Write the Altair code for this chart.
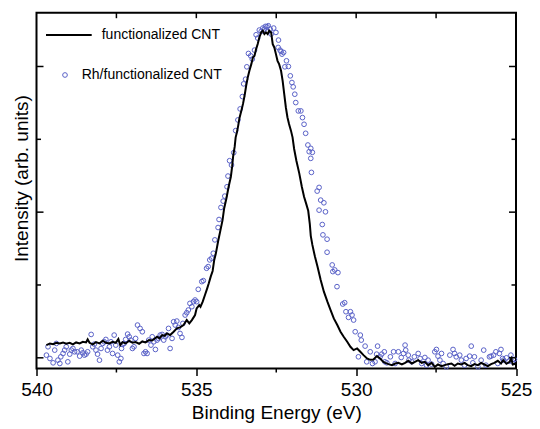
import altair as alt
import pandas as pd

series_names = ["functionalized CNT", "Rh/functionalized CNT"]

# Black line: functionalized CNT (binding energy eV, intensity arb.)
line_ev = [539.69, 539.58, 539.48, 539.38, 539.27, 539.17, 539.07, 538.96, 538.86, 538.76,
           538.65, 538.55, 538.45, 538.40, 538.34, 538.24, 538.14, 538.03, 537.93, 537.83,
           537.72, 537.62, 537.52, 537.44, 537.38, 537.31, 537.21, 537.10, 537.00, 536.90,
           536.79, 536.69, 536.59, 536.48, 536.38, 536.23, 536.15, 536.07, 535.99, 535.92,
           535.82, 535.71, 535.61, 535.51, 535.40, 535.30, 535.22, 535.14, 535.04, 534.99,
           534.91, 534.87, 534.80, 534.73, 534.66, 534.61, 534.55, 534.49, 534.44, 534.39,
           534.32, 534.25, 534.18, 534.13, 534.06, 533.99, 533.92, 533.88, 533.85, 533.80,
           533.77, 533.73, 533.69, 533.65, 533.59, 533.54, 533.49, 533.44, 533.39, 533.34,
           533.28, 533.23, 533.18, 533.13, 533.08, 533.03, 532.97, 532.92, 532.87, 532.82,
           532.77, 532.72, 532.66, 532.61, 532.56, 532.51, 532.46, 532.41, 532.35, 532.30,
           532.25, 532.20, 532.15, 532.10, 532.04, 531.99, 531.94, 531.87, 531.78, 531.70,
           531.63, 531.56, 531.50, 531.45, 531.42, 531.37, 531.29, 531.21, 531.11, 531.01,
           530.90, 530.80, 530.70, 530.59, 530.49, 530.39, 530.28, 530.18, 530.08, 529.97,
           529.87, 529.77, 529.66, 529.56, 529.46, 529.35, 529.25, 529.15, 529.09, 528.99,
           528.88, 528.78, 528.68, 528.57, 528.47, 528.37, 528.26, 528.16, 528.06, 527.95,
           527.85, 527.75, 527.64, 527.54, 527.44, 527.33, 527.23, 527.13, 527.02, 526.92,
           526.82, 526.71, 526.61, 526.51, 526.40, 526.30, 526.19, 526.09, 525.99, 525.88,
           525.78, 525.68, 525.57, 525.47, 525.40, 525.30, 525.20, 525.15, 525.10, 525.02]
line_int = [38, 43, 41, 45, 43, 46, 42, 45, 40, 46,
            43, 48, 46, 55, 45, 40, 47, 43, 51, 45,
            43, 48, 45, 56, 38, 47, 43, 51, 45, 47,
            42, 49, 46, 53, 52, 63, 58, 68, 66, 73,
            68, 78, 88, 91, 98, 113, 103, 113, 128, 148,
            158, 153, 168, 188, 208, 223, 243, 260, 293, 312,
            348, 380, 412, 447, 477, 512, 542, 572, 602, 632,
            660, 675, 695, 718, 740, 760, 785, 815, 840, 859,
            879, 899, 904, 924, 939, 959, 974, 979, 969, 974,
            969, 979, 974, 939, 929, 909, 889, 879, 859, 829,
            789, 750, 720, 700, 680, 660, 625, 590, 552, 512,
            482, 460, 440, 400, 365, 338, 303, 273, 233, 198,
            168, 143, 118, 98, 78, 63, 48, 33, 23, 28,
            18, 8, -2, -6, -5, 5, -2, -12, -15, -19,
            -22, -17, -15, -20, -15, -9, -17, -12, -7, -15,
            -12, -22, -15, -27, -20, -25, -22, -19, -17, -24,
            -17, -20, -15, -22, -25, -19, -22, -15, -20, -25,
            -19, -15, -9, -17, -7, -18, -12, -2, -20, -18]

# Open circles: Rh/functionalized CNT
rh_ev = [539.69, 539.64, 539.58, 539.48, 539.43, 539.38, 539.33, 539.27, 539.24, 539.17,
         539.12, 539.07, 539.02, 538.96, 538.91, 538.86, 538.81, 538.73, 538.65, 538.60,
         538.55, 538.50, 538.45, 538.40, 538.29, 538.24, 538.19, 538.14, 538.09, 538.03,
         537.98, 537.93, 537.88, 537.83, 537.78, 537.72, 537.67, 537.62, 537.57, 537.52,
         537.46, 537.41, 537.36, 537.34, 537.31, 537.26, 537.21, 537.15, 537.10, 537.05,
         537.00, 536.95, 536.90, 536.84, 536.76, 536.69, 536.64, 536.59,
         536.54, 536.49, 536.42, 536.38, 536.33, 536.28, 536.23, 536.18, 536.13, 536.07,
         536.02, 535.97, 535.92, 535.87, 535.82, 535.76, 535.71, 535.66, 535.61, 535.56,
         535.51, 535.45, 535.42, 535.35, 535.30, 535.25, 535.20, 535.14, 535.09, 535.04,
         534.99, 534.94, 534.83, 534.78, 534.68, 534.63, 534.58, 534.52, 534.47, 534.42,
         534.32, 534.29, 534.23, 534.16, 534.11, 534.04, 534.01, 533.96, 533.90, 533.83,
         533.77, 533.70, 533.63, 533.56, 533.52, 533.46, 533.42, 533.37, 533.30, 533.25,
         533.18, 533.13, 533.08, 533.03, 532.97, 532.92, 532.87, 532.84, 532.79, 532.77,
         532.75, 532.69, 532.66, 532.58, 532.51, 532.43, 532.44, 532.38, 532.32, 532.35,
         532.27, 532.18, 532.12, 532.23, 532.06, 532.01, 531.97, 531.92, 531.89, 531.81,
         531.73, 531.68, 531.63,
         531.58, 531.51, 531.42, 531.47, 531.37, 531.42, 531.40, 531.16, 531.22, 531.11,
         531.01, 531.16, 530.96, 531.06,
         531.04, 530.91, 530.91, 530.75, 530.73, 530.67, 530.57, 530.60, 530.42, 530.36,
         530.32, 530.18, 530.13, 530.24, 530.08, 530.03, 529.87, 529.84, 529.93, 529.72,
         529.67, 529.56, 529.49, 529.41, 529.33, 529.36, 529.20, 529.12, 529.25, 529.10,
         529.04, 528.93, 528.83, 528.78, 528.68, 528.59, 528.52, 528.47, 528.45, 528.37,
         528.35, 528.26, 528.18, 528.06, 528.00, 527.95, 527.85, 527.80, 527.75, 527.64,
         527.54, 527.49, 527.44, 527.38, 527.33, 527.28, 527.18, 527.07, 526.97, 526.92,
         526.87, 526.76, 526.71, 526.61, 526.56, 526.45, 526.40, 526.35, 526.30, 526.19,
         526.09, 526.01, 525.94, 525.83, 525.78, 525.70, 525.63, 525.57, 525.52, 525.47,
         525.42, 525.39, 525.30, 525.22, 525.16, 525.11, 525.05]
rh_int = [8, 33, -2, -15, 23, 43, -7, -17, 3, 13,
          23, 33, -12, 11, 23, 28, 18, 18, 5, 23,
          15, 8, 11, 18, 70, 33, 41, 23, 11, -7,
          28, 43, 48, 55, 23, 33, 48, 13, 68, 38,
          8, -12, -2, 28, 40, 43, 55, 71, 63, 53,
          28, 33, 58, 98, 88, 78, 13, 18,
          13, 53, 38, 63, 48, 25, 53, 58, 68, 70,
          53, 63, 68, 88, 28, 58, 108, 98, 110, 91,
          73, 61, 103, 128, 135, 143, 163, 153, 168, 173,
          168, 205, 228, 231, 268, 273, 293, 298, 313, 353,
          390, 414, 450, 469, 484, 512, 544, 590, 577, 614,
          680, 712, 745, 782, 820, 834, 871, 911, 904, 894,
          921, 967, 957, 981, 977, 987, 984, 992, 991, 977,
          994, 984, 969, 987, 974, 951, 929, 921, 909, 917,
          914, 889, 872, 871, 844, 824, 811, 789, 764, 739,
          739, 719, 699,
          672, 637, 627, 617, 615, 597, 555, 510, 499, 472,
          464, 442, 437, 399,
          368, 355, 316, 278, 258, 263, 255, 213, 161, 165,
          138, 138, 128, 121, 113, 78, 68, 53, 3, 35,
          -12, 18, -17, -12, 35, 11, 11, 18, 3, -12,
          -15, 3, 18, -17, 18, 1, 13, 38, 23, 8,
          -7, -12, 3, 13, -2, -17, 1, -22, -7, -19,
          18, 25, 5, -7, 13, -17, -27, 8, 25, 13,
          3, 8, -7, -22, -2, 5, 35, -15, 3, -27,
          -7, 23, -22, 3, 5, 8, 18, -17, 13, 25,
          -2, -7, 0, -10, 8, -12, -5]

x_major = [540, 535, 530, 525]
x_minor = [537.5, 532.5, 527.5]
x_top = [537.5, 535, 532.5, 530, 527.5]
y_major = [0, 436, 872]
y_minor = [218, 654]

W, H = 479.5, 355.8
FONT = "Liberation Sans"
BLUE = "#5a62c8"
PT_SIZE = 22

xscale = alt.Scale(domain=[525, 540], reverse=True, nice=False, zero=False)
yscale = alt.Scale(domain=[-32, 1033], nice=False, zero=False)

x_axis = alt.Axis(values=x_major, format="d", tickSize=7, tickWidth=1.5, tickColor="black",
                  domain=False, grid=False, labelFont=FONT, labelFontSize=19, labelColor="black",
                  labelBaseline="alphabetic", labelPadding=19.5, labelFlush=False, labelOverlap=False,
                  title="Binding Energy (eV)", titleFont=FONT, titleFontSize=19,
                  titleFontWeight="normal", titleColor="black", titleX=W / 2, titleY=49.5,
                  titleBaseline="alphabetic", titleAlign="center")
y_axis = alt.Axis(labels=False, ticks=False, domain=False, grid=False,
                  title="Intensity (arb. units)", titleFont=FONT, titleFontSize=19,
                  titleFontWeight="normal", titleColor="black", titleAngle=270,
                  titleX=-9, titleY=165.4, titleBaseline="alphabetic", titleAlign="center")

x_enc = alt.X("energy:Q", scale=xscale, axis=x_axis)
y_enc = alt.Y("intensity:Q", scale=yscale, axis=y_axis)

line_df = pd.DataFrame({"energy": line_ev, "intensity": line_int})
rh_df = pd.DataFrame({"energy": rh_ev, "intensity": rh_int})

pts = alt.Chart(rh_df).mark_point(shape="circle", filled=False, color=BLUE, size=PT_SIZE,
                                  strokeWidth=1, opacity=1).encode(x=x_enc, y=y_enc)
line = alt.Chart(line_df).mark_line(color="black", strokeWidth=2).encode(x=x_enc, y=y_enc)

tick_style = dict(color="black", strokeWidth=1.5)
ymaj_df = pd.DataFrame({"intensity": y_major})
ymin_df = pd.DataFrame({"intensity": y_minor})
left_maj = alt.Chart(ymaj_df).mark_rule(**tick_style).encode(y=y_enc, x=alt.value(0), x2=alt.value(7))
left_min = alt.Chart(ymin_df).mark_rule(**tick_style).encode(y=y_enc, x=alt.value(0), x2=alt.value(4.5))
right_maj = alt.Chart(ymaj_df).mark_rule(**tick_style).encode(y=y_enc, x=alt.value(W), x2=alt.value(W - 7))
right_min = alt.Chart(ymin_df).mark_rule(**tick_style).encode(y=y_enc, x=alt.value(W), x2=alt.value(W - 4.5))
top_t = alt.Chart(pd.DataFrame({"energy": x_top})).mark_rule(**tick_style).encode(
    x=x_enc, y=alt.value(0), y2=alt.value(5.5))
bot_min = alt.Chart(pd.DataFrame({"energy": x_minor})).mark_rule(**tick_style).encode(
    x=x_enc, y=alt.value(H), y2=alt.value(H + 4))

leg1 = alt.Data(values=[{"s": series_names[0]}])
leg2 = alt.Data(values=[{"s": series_names[1]}])
leg_line = alt.Chart(leg1).mark_rule(color="black", strokeWidth=2).encode(
    x=alt.value(9.5), x2=alt.value(55.2), y=alt.value(22.3))
leg_t1 = alt.Chart(leg1).mark_text(align="left", baseline="alphabetic", font=FONT, fontSize=14,
                                   color="black").encode(x=alt.value(65.2), y=alt.value(26.6), text="s:N")
leg_pt = alt.Chart(leg2).mark_point(shape="circle", filled=False, color=BLUE, size=PT_SIZE,
                                    strokeWidth=1, opacity=1).encode(x=alt.value(28.5), y=alt.value(62.3))
leg_t2 = alt.Chart(leg2).mark_text(align="left", baseline="alphabetic", font=FONT, fontSize=14,
                                   color="black").encode(x=alt.value(45.2), y=alt.value(66.6), text="s:N")

chart = alt.layer(
    pts, line, left_maj, left_min, right_maj, right_min, top_t, bot_min,
    leg_line, leg_t1, leg_pt, leg_t2
).properties(
    width=W, height=H,
    autosize=alt.AutoSizeParams(type="none"),
    padding={"left": 28.5, "top": 4.7, "right": 16, "bottom": 54.5},
).configure_view(stroke="black", strokeWidth=2)

chart.save("out.html", embed_options={"renderer": "svg", "actions": False})
